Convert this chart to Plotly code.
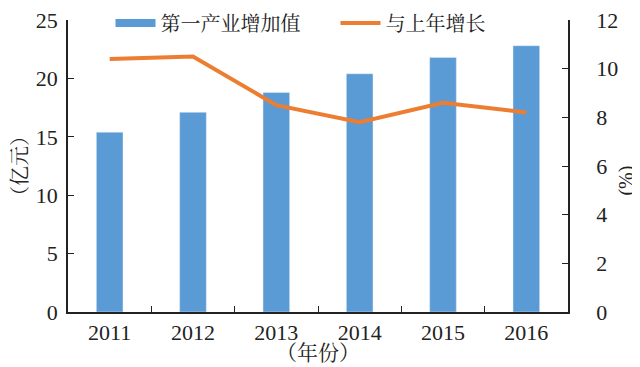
import plotly.graph_objects as go

years = ["2011", "2012", "2013", "2014", "2015", "2016"]
value_added = [15.4, 17.1, 18.8, 20.4, 21.8, 22.8]
growth = [10.4, 10.5, 8.5, 7.8, 8.6, 8.2]

FONT = "Liberation Serif, Times New Roman, Noto Serif CJK SC, Noto Sans CJK SC"
BLUE = "#5B9BD5"
ORANGE = "#ED7D31"
NB = "\u00a0"

fig = go.Figure()
fig.add_trace(go.Bar(x=years, y=value_added, name="第一产业增加值",
                     marker_color=BLUE, yaxis="y", showlegend=False))
# legend proxy for the bar series (wide rectangle key)
fig.add_trace(go.Scatter(x=[None], y=[None], name="第一产业增加值" + NB * 6, mode="lines",
                         line=dict(color=BLUE, width=8), yaxis="y"))
fig.add_trace(go.Scatter(x=years, y=growth, name="与上年增长", mode="lines",
                         line=dict(color=ORANGE, width=4), yaxis="y2"))

fig.update_layout(
    width=632, height=359,
    margin=dict(l=60, r=72, t=12, b=55, autoexpand=False),
    paper_bgcolor="white", plot_bgcolor="white",
    font=dict(family=FONT, size=22, color="#222"),
    bargap=0.68,
    showlegend=True,
    legend=dict(orientation="h", x=0.465, xanchor="center", y=0.99, yanchor="middle",
                font=dict(size=20), itemwidth=40, bgcolor="rgba(0,0,0,0)",
                tracegroupgap=0),
    xaxis=dict(showline=True, linecolor="#222", linewidth=1.5, ticks="inside",
               tickson="boundaries", ticklen=6, tickcolor="#222"),
    yaxis=dict(range=[0, 25], dtick=5, showline=True, linecolor="#222", linewidth=1.5,
               ticks="inside", ticklen=6, tickcolor="#222", showgrid=False, zeroline=False,
               ticklabeloverflow="allow", ticklabelstandoff=4),
    yaxis2=dict(range=[0, 12], dtick=2, overlaying="y", side="right", showline=True,
                linecolor="#222", linewidth=1.5, ticks="inside", ticklen=6, tickcolor="#222",
                showgrid=False, zeroline=False, ticklabeloverflow="allow",
                ticklabelstandoff=22),
    annotations=[
        dict(text="（年份）", xref="paper", yref="paper", x=0.5, y=0, yshift=-41,
             xanchor="center", yanchor="middle", showarrow=False, font=dict(size=21)),
        dict(text="（亿元）", xref="paper", yref="paper", x=0, y=0.5, xshift=-48,
             xanchor="center", yanchor="middle", textangle=-90, showarrow=False,
             font=dict(size=20)),
        dict(text="(%)", xref="paper", yref="paper", x=1, y=0.45, xshift=59,
             xanchor="center", yanchor="middle", textangle=-90, showarrow=False,
             font=dict(size=20)),
    ],
)

fig.write_html("out.html")
